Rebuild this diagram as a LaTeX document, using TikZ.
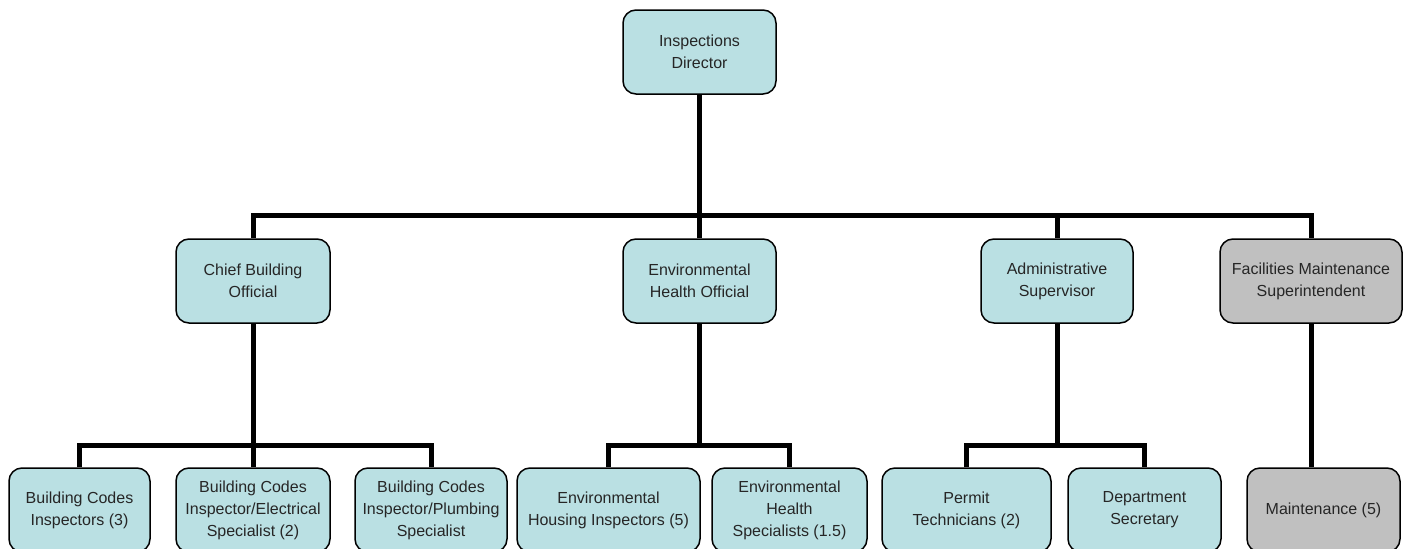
\documentclass[tikz,border=0pt]{standalone}
\usepackage{fontspec}
\setmainfont{Liberation Sans}
\usepackage{xcolor}
\usepackage{tikz}
\usetikzlibrary{positioning,calc}

\definecolor{staffblue}{RGB}{186,224,227}
\definecolor{staffgrey}{RGB}{192,192,192}

\tikzset{
    post/.style={draw=black, line width=1.5pt, rounded corners=13pt, fill=staffblue,
        align=center, inner sep=0pt, minimum height=84pt, text=black!85},
    facility/.style={post, fill=staffgrey},
    link/.style={line width=5pt, line join=miter}
}

\begin{document}
\begin{tikzpicture}[x=1pt, y=-1pt, font=\fontsize{16}{22}\selectfont]
    \useasboundingbox (0,0) rectangle (1406,549);

    % Director
    \node[post, minimum width=153pt] (dir) at (699.5, 52) {Inspections\\Director};

    % Second level
    \node[post, minimum width=154pt] (cbo) at (253, 281) {Chief Building\\Official};
    \node[post, minimum width=153pt] (eho) at (699.5, 281) {Environmental\\Health Official};
    \node[post, minimum width=152pt] (adm) at (1057, 281) {Administrative\\Supervisor};
    \node[facility, minimum width=182pt] (fms) at (1311, 281) {Facilities Maintenance\\Superintendent};

    % Staff
    \node[post, minimum width=141pt] (bci) at (79.5, 510) {Building Codes\\Inspectors (3)};
    \node[post, minimum width=154pt] (bce) at (253, 510) {Building Codes\\Inspector/Electrical\\Specialist (2)};
    \node[post, minimum width=152pt] (bcp) at (431, 510) {Building Codes\\Inspector/Plumbing\\Specialist};
    \node[post, minimum width=183pt] (ehi) at (608.5, 510) {Environmental\\Housing Inspectors (5)};
    \node[post, minimum width=155pt] (ehs) at (789.5, 510) {Environmental\\Health\\Specialists (1.5)};
    \node[post, minimum width=169pt] (pt) at (966.5, 510) {Permit\\Technicians (2)};
    \node[post, minimum width=153pt] (ds) at (1144.5, 510) {Department\\Secretary};
    \node[facility, minimum width=153pt] (mnt) at (1323.5, 510) {Maintenance (5)};

    % Bus lines
    \coordinate (bus) at (0, 215);
    \coordinate (subbus) at (0, 445);

    % Director to second level
    \draw[link] (dir) -- (dir |- bus);
    \draw[link] (cbo.north) |- (fms.north |- bus) -- (fms.north);
    \draw[link] (eho.north) -- (eho.north |- bus);
    \draw[link] (adm.north) -- (adm.north |- bus);

    % Second level to staff
    \draw[link] (cbo) -- (cbo |- subbus);
    \draw[link] (bci.north) |- (bcp.north |- subbus) -- (bcp.north);
    \draw[link] (bce.north) -- (bce.north |- subbus);

    \draw[link] (eho) -- (eho |- subbus);
    \draw[link] (ehi.north) |- (ehs.north |- subbus) -- (ehs.north);

    \draw[link] (adm) -- (adm |- subbus);
    \draw[link] (pt.north) |- (ds.north |- subbus) -- (ds.north);

    \draw[link] (fms) -- (fms |- mnt.north);
\end{tikzpicture}
\end{document}
